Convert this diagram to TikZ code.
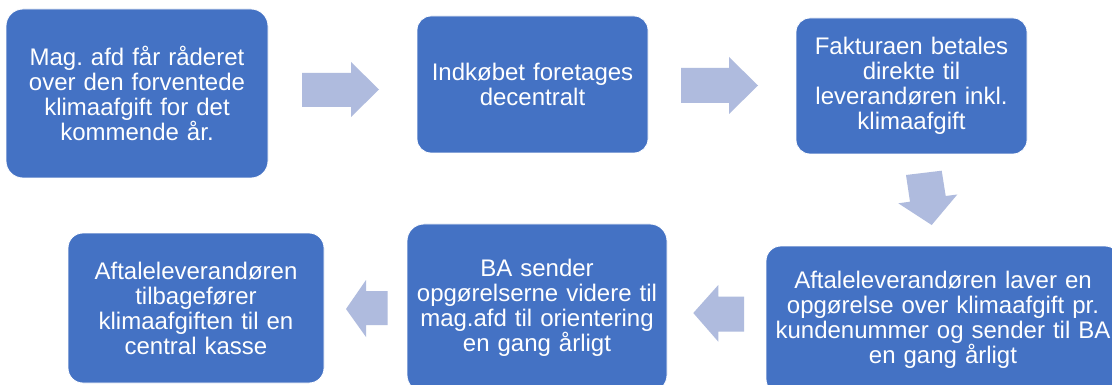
\documentclass[tikz,border=0pt]{standalone}
\usepackage{fontspec}
\setmainfont{Liberation Sans}
\frenchspacing
\definecolor{boxblue}{RGB}{68,114,196}
\definecolor{arrowc}{RGB}{175,187,222}
\begin{document}
\begin{tikzpicture}[x=1pt,y=-1pt,
  stepbox/.style={rectangle, rounded corners=#1, fill=boxblue, draw=white, line width=0.8pt,
     inner sep=0pt, text=white, align=center, font=\fontsize{24}{25}\selectfont},
  blockarrow/.style={fill=arrowc, draw=none}]
\useasboundingbox (0,0) rectangle (1112,385);
\clip (0,0) rectangle (1112,385);
\fill[white] (0,0) rectangle (1112,385);
\node[stepbox=17pt, minimum width=262pt, minimum height=169pt, text width=240pt] (b1) at (137,93.5)
  {Mag. afd får råderet\\over den forventede\\klimaafgift for det\\kommende år.};
\node[stepbox=14pt, minimum width=231pt, minimum height=137pt, text width=215pt] (b2) at (532.5,84.5)
  {Indkøbet foretages\\decentralt};
\node[stepbox=14pt, minimum width=231pt, minimum height=136pt, text width=215pt] (b3) at (911.5,86)
  {Fakturaen betales\\direkte til\\leverandøren inkl.\\klimaafgift};
\node[stepbox=15pt, minimum width=354pt, minimum height=148pt, text width=340pt] (b4) at (943,320)
  {Aftaleleverandøren laver en\\opgørelse over klimaafgift pr.\\kundenummer og sender til BA\\en gang årligt};
\node[stepbox=17pt, minimum width=260pt, minimum height=168pt, text width=245pt] (b5) at (537,308)
  {BA sender\\opgørelserne videre til\\mag.afd til orientering\\en gang årligt};
\node[stepbox=15pt, minimum width=256pt, minimum height=150pt, text width=240pt] (b6) at (196,308)
  {Aftaleleverandøren\\tilbagefører\\klimaafgiften til en\\central kasse};
% block arrows
\fill[blockarrow] (302,73) -- (351,73) -- (351,62) -- (379,89.5) -- (351,117) -- (351,107) -- (302,107) -- cycle;
\fill[blockarrow] (681,68) -- (729,68) -- (729,57) -- (758,85.5) -- (729,114) -- (729,103) -- (681,103) -- cycle;
\fill[blockarrow] (906,175) -- (941.7,170.7) -- (945.7,196) -- (957.3,194.5) -- (931.7,225) -- (898.3,203.3) -- (910,201.7) -- cycle;
\fill[blockarrow] (744,296.7) -- (718.3,296.7) -- (718.3,285) -- (693.3,313) -- (718.3,341.7) -- (718.3,331.7) -- (744,331.7) -- cycle;
\fill[blockarrow] (387.7,291) -- (366,291) -- (366,280) -- (346,309) -- (366,337) -- (366,325) -- (387.7,325) -- cycle;
\end{tikzpicture}
\end{document}
